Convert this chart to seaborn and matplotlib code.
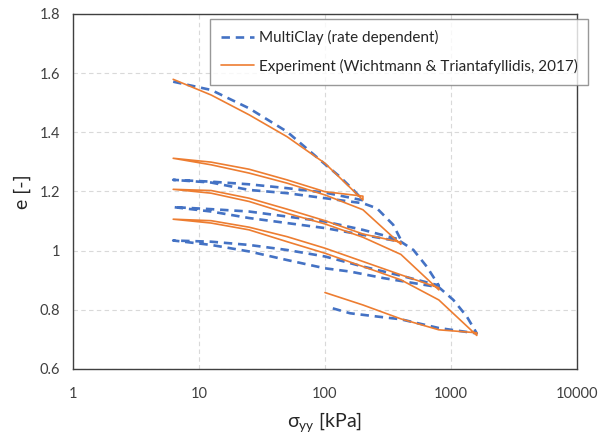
import numpy as np
import pandas as pd
import seaborn as sns
import matplotlib.pyplot as plt

# experiment (Wichtmann & Triantafyllidis, 2017) - one continuous load path
exp_sigma = [6.25, 12.5, 25, 50, 100, 200,
             200, 100, 50, 25, 12.5, 6.25,
             12.5, 25, 50, 100, 200, 400,
             400, 200, 100, 50, 25, 12.5, 6.25,
             12.5, 25, 50, 100, 200, 400, 800,
             800, 400, 200, 100, 50, 25, 12.5, 6.25,
             12.5, 25, 50, 100, 200, 400, 800, 1600,
             1600, 800, 400, 200, 100]
exp_e = [1.579, 1.526, 1.459, 1.385, 1.295, 1.171,
         1.184, 1.199, 1.239, 1.275, 1.299, 1.312,
         1.290, 1.262, 1.228, 1.188, 1.138, 1.021,
         1.028, 1.056, 1.101, 1.140, 1.177, 1.203, 1.207,
         1.194, 1.166, 1.126, 1.090, 1.045, 0.987, 0.867,
         0.874, 0.918, 0.963, 1.008, 1.047, 1.079, 1.101, 1.106,
         1.093, 1.070, 1.030, 0.991, 0.946, 0.901, 0.833, 0.713,
         0.722, 0.732, 0.769, 0.816, 0.858]

# MultiClay (rate dependent) simulation
mod_sigma = [6.25, 12.5, 25, 50, 100, 131, 168, 200,
             100, 50, 25, 12.5, 6.25,
             12.5, 25, 50, 100, 200, 258, 348, 400,
             200, 100, 50, 25, 12.5, 6.25,
             12.5, 25, 50, 100, 200, 400, 503, 641, 800,
             400, 200, 100, 50, 25, 12.5, 6.25,
             12.5, 25, 50, 100, 158, 290, 800, 1043, 1333, 1600,
             800, 395, 258, 158, 106]
mod_e = [1.571, 1.543, 1.481, 1.402, 1.292, 1.250, 1.205, 1.170,
         1.196, 1.211, 1.224, 1.233, 1.239,
         1.230, 1.205, 1.194, 1.177, 1.160, 1.143, 1.087, 1.036,
         1.070, 1.098, 1.115, 1.132, 1.140, 1.147,
         1.132, 1.110, 1.093, 1.076, 1.053, 1.030, 1.002, 0.946, 0.882,
         0.915, 0.946, 0.980, 1.002, 1.019, 1.030, 1.034,
         1.019, 0.997, 0.968, 0.940, 0.929, 0.907, 0.876, 0.833, 0.777, 0.720,
         0.738, 0.768, 0.777, 0.788, 0.809]

df_exp = pd.DataFrame({"sigma": exp_sigma, "e": exp_e})
df_mod = pd.DataFrame({"sigma": mod_sigma, "e": mod_e})

sns.set_style("white")
plt.rcParams["font.family"] = ["Lato", "DejaVu Sans"]

fig, ax = plt.subplots(figsize=(6.12, 4.36), dpi=100)
fig.subplots_adjust(left=0.119, right=0.943, top=0.968, bottom=0.154)

sns.lineplot(data=df_mod, x="sigma", y="e", sort=False, estimator=None,
             color="#4472C4", linestyle=(0, (3.2, 2.2)), linewidth=1.9,
             label="MultiClay (rate dependent)", ax=ax)
sns.lineplot(data=df_exp, x="sigma", y="e", sort=False, estimator=None,
             color="#ED7D31", linewidth=1.2,
             label="Experiment (Wichtmann & Triantafyllidis, 2017)", ax=ax)

ax.set_xscale("log")
ax.set_xlim(1, 10000)
ax.set_ylim(0.6, 1.8)
ax.set_xticks([1, 10, 100, 1000, 10000])
ax.set_xticklabels(["1", "10", "100", "1000", "10000"])
ax.set_yticks([0.6, 0.8, 1.0, 1.2, 1.4, 1.6, 1.8])
ax.set_yticklabels(["0.6", "0.8", "1", "1.2", "1.4", "1.6", "1.8"])
ax.minorticks_off()
ax.tick_params(labelsize=10.5, colors="#404040", length=0)
ax.tick_params(axis="x", pad=13)
ax.tick_params(axis="y", pad=9)
ax.grid(True, color="#d9d9d9", linestyle=(0, (4, 3)), linewidth=0.8)

for s in ax.spines.values():
    s.set_color("#404040")
    s.set_linewidth(1.0)

ax.set_xlabel("σ$_{\\mathregular{yy}}$ [kPa]", fontsize=14, color="#262626", labelpad=7)
ax.set_ylabel("e [-]", fontsize=14, color="#262626", labelpad=6)

leg = ax.legend(loc="upper left", bbox_to_anchor=(0.272, 0.985), fontsize=11,
                frameon=True, fancybox=False, edgecolor="#7f7f7f",
                handlelength=2.2, handletextpad=0.3, borderpad=0.7,
                labelspacing=0.9, borderaxespad=0)
leg.get_frame().set_linewidth(1.0)
for t in leg.get_texts():
    t.set_color("#262626")

fig.savefig("out.png", dpi=100)
